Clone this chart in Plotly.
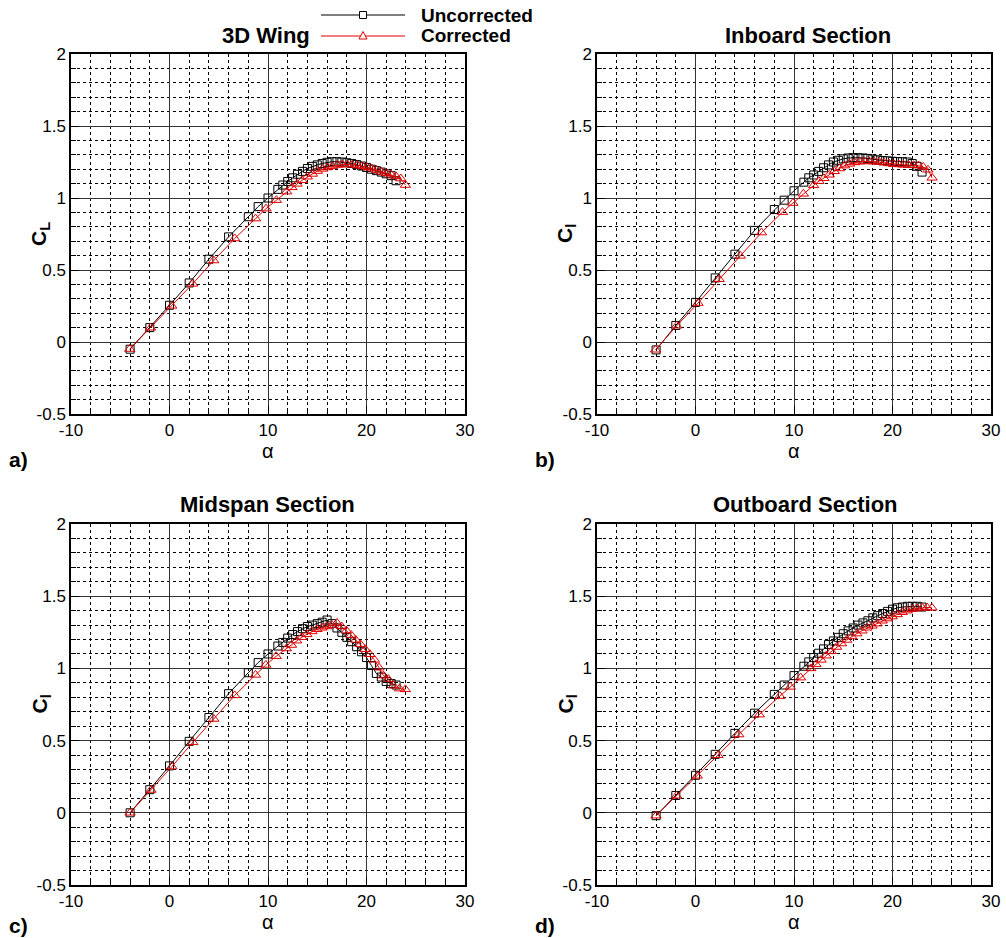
import plotly.graph_objects as go

# ---------------- data ----------------
alpha_unc = [-4, -2, 0, 2, 4, 6, 8, 9, 10, 11, 11.5, 12, 12.5, 13, 13.5, 14, 14.5, 15, 15.5,
             16, 16.5, 17, 17.5, 18, 18.5, 19, 19.5, 20, 20.5, 21, 21.5, 22, 22.5, 23]

# a) 3D wing
cl_wing_unc = [-0.05, 0.10, 0.255, 0.41, 0.575, 0.73, 0.87, 0.94, 1.00, 1.06, 1.09, 1.115, 1.14,
               1.165, 1.185, 1.205, 1.22, 1.23, 1.24, 1.248, 1.252, 1.252, 1.25, 1.245, 1.24,
               1.232, 1.222, 1.212, 1.20, 1.19, 1.18, 1.168, 1.155, 1.12]
alpha_wing_cor = [-4.04, -1.92, 0.22, 2.35, 4.49, 6.62, 8.74, 9.80, 10.85, 11.90, 12.43, 12.95,
                  13.47, 13.99, 14.51, 15.02, 15.54, 16.05, 16.55, 17.06, 17.56, 18.06, 18.56,
                  19.06, 19.55, 20.05, 20.54, 21.03, 21.52, 22.01, 22.50, 22.99, 23.48, 23.95]
cl_wing_cor = [-0.049, 0.099, 0.251, 0.404, 0.566, 0.719, 0.857, 0.926, 0.985, 1.044, 1.074,
               1.098, 1.123, 1.148, 1.167, 1.187, 1.202, 1.212, 1.221, 1.229, 1.233, 1.233,
               1.231, 1.226, 1.221, 1.214, 1.204, 1.194, 1.182, 1.172, 1.162, 1.150, 1.135, 1.09]

# b) inboard section
cl_inb_unc = [-0.055, 0.115, 0.275, 0.445, 0.61, 0.775, 0.92, 0.985, 1.05, 1.11, 1.14, 1.16,
              1.185, 1.21, 1.23, 1.25, 1.262, 1.272, 1.278, 1.28, 1.28, 1.278, 1.275, 1.27,
              1.265, 1.26, 1.258, 1.255, 1.253, 1.252, 1.25, 1.24, 1.22, 1.18]
alpha_inb_cor = [-4.05, -1.90, 0.25, 2.40, 4.55, 6.70, 8.83, 9.89, 10.95, 12.00, 12.53, 13.04,
                 13.57, 14.09, 14.61, 15.13, 15.64, 16.14, 16.65, 17.15, 17.65, 18.15, 18.65,
                 19.14, 19.64, 20.13, 20.63, 21.13, 21.63, 22.13, 22.63, 23.12, 23.60, 24.02]
cl_inb_cor = [-0.054, 0.113, 0.270, 0.436, 0.598, 0.760, 0.902, 0.965, 1.029, 1.088, 1.117,
              1.137, 1.161, 1.186, 1.205, 1.225, 1.237, 1.247, 1.252, 1.254, 1.254, 1.252,
              1.250, 1.245, 1.240, 1.235, 1.233, 1.230, 1.228, 1.227, 1.225, 1.215, 1.196, 1.14]

# c) midspan section
cl_mid_unc = [0.0, 0.16, 0.325, 0.495, 0.66, 0.825, 0.97, 1.04, 1.10, 1.155, 1.18, 1.21, 1.235,
              1.255, 1.275, 1.29, 1.30, 1.31, 1.32, 1.335, 1.31, 1.28, 1.25, 1.215, 1.185, 1.15,
              1.115, 1.075, 1.02, 0.965, 0.94, 0.91, 0.895, 0.885]
alpha_mid_cor = [-4.00, -1.88, 0.24, 2.37, 4.50, 6.62, 8.73, 9.78, 10.83, 11.87, 12.39, 12.91,
                 13.43, 13.94, 14.46, 14.97, 15.48, 15.98, 16.49, 17.00, 17.48, 17.96, 18.44,
                 18.91, 19.39, 19.86, 20.34, 20.81, 21.27, 21.72, 22.21, 22.75, 23.35, 23.95]
cl_mid_cor = [0.0, 0.158, 0.320, 0.488, 0.650, 0.813, 0.955, 1.024, 1.084, 1.138, 1.162, 1.192,
              1.216, 1.236, 1.256, 1.271, 1.281, 1.290, 1.300, 1.315, 1.290, 1.261, 1.231,
              1.197, 1.167, 1.133, 1.098, 1.059, 1.005, 0.950, 0.926, 0.88, 0.86, 0.855]

# d) outboard section
cl_out_unc = [-0.02, 0.12, 0.26, 0.405, 0.55, 0.69, 0.82, 0.885, 0.95, 1.015, 1.045, 1.075,
              1.105, 1.135, 1.165, 1.19, 1.215, 1.24, 1.26, 1.28, 1.30, 1.315, 1.33, 1.35,
              1.365, 1.38, 1.395, 1.41, 1.42, 1.425, 1.43, 1.43, 1.43, 1.425]
alpha_out_cor = [-4.01, -1.92, 0.18, 2.28, 4.39, 6.48, 8.57, 9.62, 10.67, 11.71, 12.23, 12.75,
                 13.27, 13.79, 14.32, 14.83, 15.35, 15.87, 16.38, 16.90, 17.41, 17.92, 18.43,
                 18.95, 19.46, 19.97, 20.48, 20.99, 21.49, 22.00, 22.50, 23.00, 23.50, 24.00]
cl_out_cor = [-0.020, 0.118, 0.256, 0.399, 0.542, 0.680, 0.808, 0.872, 0.936, 1.000, 1.029,
              1.059, 1.088, 1.118, 1.148, 1.172, 1.197, 1.221, 1.241, 1.261, 1.281, 1.295,
              1.310, 1.330, 1.345, 1.359, 1.374, 1.389, 1.40, 1.41, 1.415, 1.42, 1.422, 1.42]

panel_titles = ["3D Wing", "Inboard Section", "Midspan Section", "Outboard Section"]
panel_letters = ["a)", "b)", "c)", "d)"]
y_titles = ["C<sub>L</sub>", "C<sub>l</sub>", "C<sub>l</sub>", "C<sub>l</sub>"]
x_title = "α"
series_names = ["Uncorrected", "Corrected"]

x_tickvals = [-10, 0, 10, 20, 30]
x_ticktext = ["-10", "0", "10", "20", "30"]
y_tickvals = [-0.5, 0, 0.5, 1, 1.5, 2]
y_ticktext = ["-0.5", "0", "0.5", "1", "1.5", "2"]

panels = [
    (alpha_unc, cl_wing_unc, alpha_wing_cor, cl_wing_cor),
    (alpha_unc, cl_inb_unc, alpha_inb_cor, cl_inb_cor),
    (alpha_unc, cl_mid_unc, alpha_mid_cor, cl_mid_cor),
    (alpha_unc, cl_out_unc, alpha_out_cor, cl_out_cor),
]

# ---------------- layout geometry (pixels) ----------------
W, H = 1006, 938
FONT = "Liberation Sans, Arial, Helvetica, sans-serif"
# (left, right, top, bottom) of each plot frame in pixels
boxes = [(71, 465, 54, 414), (597, 991, 54, 414), (71, 465, 524, 885), (597, 991, 524, 885)]


def px(x):
    return x / W


def py(y):
    return 1 - y / H


fig = go.Figure()
layout = dict(
    width=W, height=H,
    margin=dict(l=0, r=0, t=0, b=0, pad=0, autoexpand=False),
    paper_bgcolor="white", plot_bgcolor="white",
    showlegend=False,
    font=dict(family=FONT, size=17, color="black"),
    annotations=[], shapes=[],
)

for i, (au, cu, ac, cc) in enumerate(panels):
    n = "" if i == 0 else str(i + 1)
    xa, ya = "x" + n, "y" + n
    fig.add_trace(go.Scatter(
        x=au, y=cu, xaxis=xa, yaxis=ya, name=series_names[0], mode="lines+markers",
        line=dict(color="black", width=1),
        marker=dict(symbol="square-open", size=8, color="black", line=dict(width=1)),
    ))
    fig.add_trace(go.Scatter(
        x=ac, y=cc, xaxis=xa, yaxis=ya, name=series_names[1], mode="lines+markers",
        line=dict(color="#e00000", width=1),
        marker=dict(symbol="triangle-up-open", size=9, color="#e00000", line=dict(width=1)),
    ))
    l, r, t, b = boxes[i]
    common = dict(
        showline=True, linecolor="black", linewidth=1.5, mirror=True,
        showgrid=True, gridcolor="#333333", gridwidth=1,
        ticks="inside", ticklen=8, tickcolor="black", tickwidth=1,
        zeroline=False, automargin=False,
        tickfont=dict(family=FONT, size=17, color="black"),
    )
    layout["xaxis" + n] = dict(
        common, domain=[px(l), px(r)], anchor=ya, range=[-10, 30],
        tickvals=x_tickvals, ticktext=x_ticktext,
        minor=dict(dtick=2, tick0=0, showgrid=True, gridcolor="black", griddash="dot",
                   gridwidth=1, ticks="inside", ticklen=5, tickcolor="black"),
    )
    layout["yaxis" + n] = dict(
        common, domain=[py(b), py(t)], anchor=xa, range=[-0.5, 2],
        tickvals=y_tickvals, ticktext=y_ticktext,
        minor=dict(dtick=0.1, tick0=0, showgrid=True, gridcolor="black", griddash="dot",
                   gridwidth=1, ticks="inside", ticklen=5, tickcolor="black"),
    )
    cx = (l + r) / 2
    title_x = [266, 808, 267, 805][i]
    letter_y = [459, 459, 925, 925][i]
    layout["annotations"] += [
        dict(text="<b>%s</b>" % panel_titles[i], x=px(title_x), y=py(t - 19), xref="paper",
             yref="paper", showarrow=False, font=dict(size=22), xanchor="center",
             yanchor="middle"),
        dict(text=x_title, x=px(cx), y=py(b + 37), xref="paper", yref="paper",
             showarrow=False, font=dict(size=20), xanchor="center", yanchor="middle"),
        dict(text="<b>%s</b>" % y_titles[i], x=px(l - 31), y=py((t + b) / 2), xref="paper",
             yref="paper", showarrow=False, font=dict(size=21), textangle=-90,
             xanchor="center", yanchor="middle"),
        dict(text="<b>%s</b>" % panel_letters[i], x=px(l - 64), y=py(letter_y), xref="paper",
             yref="paper", showarrow=False, font=dict(size=21), xanchor="left",
             yanchor="middle"),
    ]

# ---------------- legend (drawn manually, top centre) ----------------
leg = [(15, "black", "square"), (36, "#e00000", "triangle")]
for (yy, col, sym), name in zip(leg, series_names):
    layout["shapes"].append(dict(type="line", xref="paper", yref="paper",
                                 x0=px(321), x1=px(405), y0=py(yy), y1=py(yy),
                                 line=dict(color=col, width=1)))
    if sym == "square":
        layout["shapes"].append(dict(type="rect", xref="paper", yref="paper",
                                     x0=px(359.5), x1=px(366.5), y0=py(yy + 3.5),
                                     y1=py(yy - 3.5), fillcolor="white",
                                     line=dict(color=col, width=1)))
    else:
        path = "M %f %f L %f %f L %f %f Z" % (px(359), py(yy + 3), px(367), py(yy + 3),
                                             px(363), py(yy - 4.5))
        layout["shapes"].append(dict(type="path", xref="paper", yref="paper", path=path,
                                     fillcolor="white", line=dict(color=col, width=1)))
    layout["annotations"].append(dict(text="<b>%s</b>" % name, x=px(419), y=py(yy),
                                      xref="paper", yref="paper", showarrow=False,
                                      font=dict(size=19), xanchor="left", yanchor="middle"))

fig.update_layout(**layout)
fig.write_html(
    "out.html",
    config={"responsive": False},
    post_script="document.body.style.margin='0px';document.body.style.overflow='hidden';",
)
